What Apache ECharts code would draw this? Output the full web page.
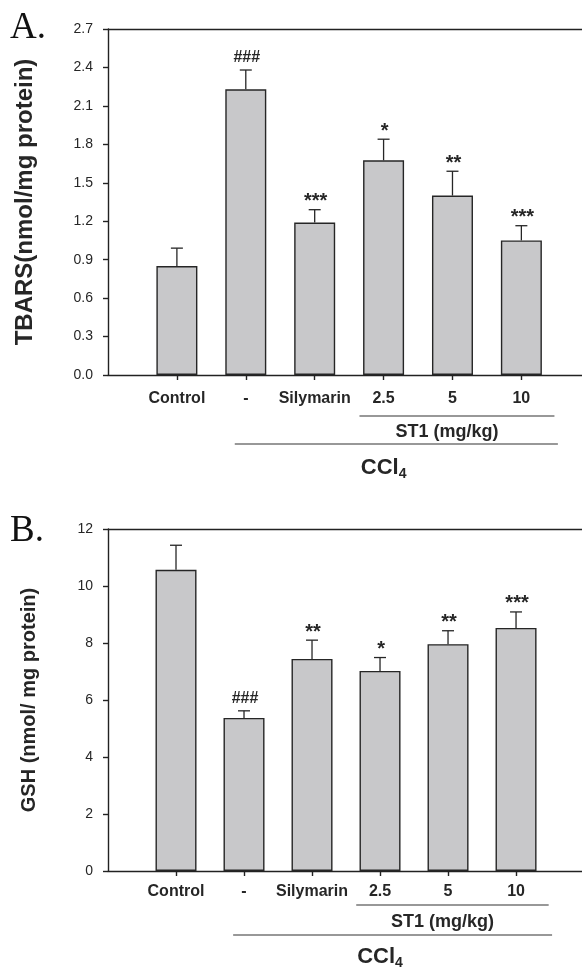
<!DOCTYPE html>
<html><head><meta charset="utf-8">
<script src="https://cdn.jsdelivr.net/npm/echarts@6/dist/echarts.min.js"></script>
<style>html,body{margin:0;padding:0;background:#fff}#c{width:582px;height:970px}</style>
</head><body><div id="c"></div>
<script>
// ---- data ----
const categories = ['Control', '-', 'Silymarin', '2.5', '5', '10'];
const tbarsMean = [0.85, 2.23, 1.19, 1.675, 1.40, 1.05];
const tbarsErr  = [0.14, 0.15, 0.10, 0.165, 0.19, 0.115];
const tbarsSig  = ['', '###', '***', '*', '**', '***'];
const gshMean = [10.57, 5.37, 7.44, 7.02, 7.96, 8.53];
const gshErr  = [0.86, 0.25, 0.66, 0.47, 0.47, 0.56];
const gshSig  = ['', '###', '**', '*', '**', '***'];
const tbarsTicks = ['0.0', '0.3', '0.6', '0.9', '1.2', '1.5', '1.8', '2.1', '2.4', '2.7'];
const gshTicks = ['0', '2', '4', '6', '8', '10', '12'];
const tbarsTitle = 'TBARS(nmol/mg protein)';
const gshTitle = 'GSH (nmol/ mg protein)';
const groupST1 = 'ST1 (mg/kg)';
const groupCCl4 = ['CCl', '4'];

// ---- style ----
const FONT = '"Liberation Sans", Arial, sans-serif';
const INK = '#262626';
const LINE = { color: '#222', width: 1.4 };
const catIdx = categories.map((c, i) => i);

const chart = echarts.init(document.getElementById('c'));

function yAxisFor(gi, ticks, title, gap, titleSize) {
  return {
    gridIndex: gi, type: 'value',
    min: +ticks[0], max: +ticks[ticks.length - 1], interval: +ticks[1] - +ticks[0],
    axisLine: { show: true, onZero: false, lineStyle: LINE },
    axisTick: { show: true, length: 5, lineStyle: LINE },
    axisLabel: {
      margin: 15, fontSize: 14, color: INK, fontFamily: FONT,
      formatter: v => { const t = ticks.find(s => Math.abs(+s - v) < 1e-6); return t === undefined ? '' : t; }
    },
    splitLine: { show: false },
    name: title, nameLocation: 'middle', nameGap: gap,
    nameTextStyle: { fontSize: titleSize, fontWeight: 'bold', color: INK, fontFamily: FONT }
  };
}
function xAxesFor(gi, max, margin) {
  return [{
    gridIndex: gi, type: 'value', min: -1, max: max, interval: 1,
    axisLine: { show: true, onZero: false, lineStyle: LINE },
    axisTick: { show: true, length: 5, customValues: catIdx, lineStyle: LINE },
    axisLabel: { customValues: catIdx, formatter: v => categories[Math.round(v)] || '', margin: margin,
      fontSize: 16, fontWeight: 'bold', color: INK, fontFamily: FONT },
    splitLine: { show: false }
  }, {
    gridIndex: gi, type: 'value', position: 'top', min: -1, max: max,
    axisLine: { show: true, onZero: false, lineStyle: LINE },
    axisTick: { show: false }, axisLabel: { show: false }, splitLine: { show: false }
  }];
}
function barSeries(xi, yi, mean) {
  return {
    type: 'bar', xAxisIndex: xi, yAxisIndex: yi, barWidth: 41,
    data: mean.map((v, i) => [i, v]),
    itemStyle: { color: '#c8c8ca', borderColor: '#262626', borderWidth: 1.4 },
    silent: true, animation: false
  };
}
function errSeries(xi, yi, mean, err, sig) {
  return {
    type: 'custom', xAxisIndex: xi, yAxisIndex: yi, animation: false, silent: true,
    data: mean.map((v, i) => [i, v, err[i], i]),
    encode: { x: 0, y: 1 },
    renderItem: (params, api) => {
      const x = api.value(0), m = api.value(1), e = api.value(2), k = api.value(3);
      const top = api.coord([x, m]);
      const hi = api.coord([x, m + e]);
      const s = sig[k];
      const isHash = s.indexOf('#') >= 0;
      const children = [
        { type: 'line', shape: { x1: top[0], y1: top[1], x2: hi[0], y2: hi[1] }, style: { stroke: '#262626', lineWidth: 1.3 } },
        { type: 'line', shape: { x1: hi[0] - 6, y1: hi[1], x2: hi[0] + 6, y2: hi[1] }, style: { stroke: '#262626', lineWidth: 1.3 } }
      ];
      if (s) children.push({
        type: 'text',
        style: { text: s, x: hi[0] + 1, y: hi[1] - (isHash ? 12 : 8), align: 'center', verticalAlign: 'middle',
          font: 'bold ' + (isHash ? 16 : 20) + 'px ' + FONT, fill: INK }
      });
      return { type: 'group', children };
    }
  };
}

chart.setOption({
  animation: false,
  grid: [
    { left: 108, right: 0, top: 29, height: 346 },
    { left: 108, right: 0, top: 529, height: 342 }
  ],
  xAxis: [...xAxesFor(0, 5.88, 16), ...xAxesFor(1, 5.97, 13)],
  yAxis: [yAxisFor(0, tbarsTicks, tbarsTitle, 71, 24), yAxisFor(1, gshTicks, gshTitle, 69, 20)],
  series: [
    barSeries(0, 0, tbarsMean), errSeries(0, 0, tbarsMean, tbarsErr, tbarsSig),
    barSeries(2, 1, gshMean), errSeries(2, 1, gshMean, gshErr, gshSig)
  ]
});

// ---- group annotations under the axes ----
const panels = [
  { xi: 0, bottom: 375, st1Line: 41, st1Text: 57, cclLine: 69, cclText: 93, letter: 'A.', ly: 28 },
  { xi: 2, bottom: 871, st1Line: 34, st1Text: 51, cclLine: 64, cclText: 86, letter: 'B.', ly: 531 }
];
const span = { st1: [2.65, 5.48], ccl: [0.84, 5.53], st1Mid: 3.92, cclMid: 3.0 };
const g = [];
panels.forEach(p => {
  const px = v => chart.convertToPixel({ xAxisIndex: p.xi }, v);
  g.push({ type: 'line', shape: { x1: px(span.st1[0]), y1: p.bottom + p.st1Line, x2: px(span.st1[1]), y2: p.bottom + p.st1Line },
    style: { stroke: '#333', lineWidth: 1.2 } });
  g.push({ type: 'line', shape: { x1: px(span.ccl[0]), y1: p.bottom + p.cclLine, x2: px(span.ccl[1]), y2: p.bottom + p.cclLine },
    style: { stroke: '#333', lineWidth: 1.2 } });
  g.push({ type: 'text', x: px(span.st1Mid), y: p.bottom + p.st1Text,
    style: { text: groupST1, align: 'center', verticalAlign: 'middle', font: 'bold 18px ' + FONT, fill: INK } });
  g.push({ type: 'text', x: px(span.cclMid), y: p.bottom + p.cclText,
    style: { text: '{a|' + groupCCl4[0] + '}{s|' + groupCCl4[1] + '}', align: 'center', verticalAlign: 'middle',
      rich: { a: { font: 'bold 22px ' + FONT, fill: INK }, s: { font: 'bold 14px ' + FONT, fill: INK, padding: [12, 0, 0, 0] } } } });
  g.push({ type: 'text', x: 10, y: p.ly,
    style: { text: p.letter, align: 'left', verticalAlign: 'middle', font: '37px "Liberation Serif", "Times New Roman", serif', fill: '#111' } });
});
chart.setOption({ graphic: g });
</script>
</body></html>
